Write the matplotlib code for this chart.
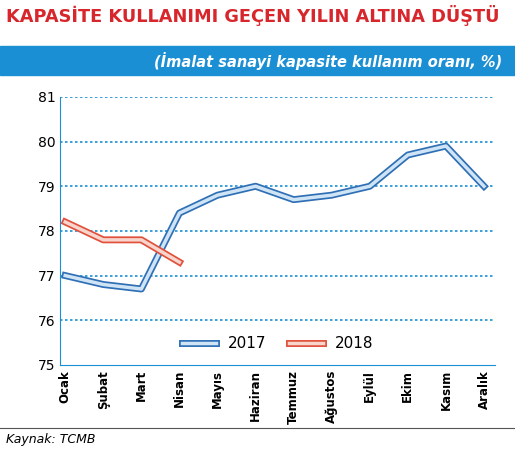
import matplotlib
matplotlib.use("Agg")
import matplotlib.pyplot as plt
import matplotlib.patheffects as pe
from matplotlib.patches import Rectangle

months = ["Ocak","Şubat","Mart","Nisan","Mayıs","Haziran","Temmuz","Ağustos","Eylül","Ekim","Kasım","Aralık"]
y2017 = [77.0,76.8,76.7,78.4,78.8,79.0,78.7,78.8,79.0,79.7,79.9,79.0]
y2018 = [78.2,77.8,77.8,77.3]
yticks = [75,76,77,78,79,80,81]

fig = plt.figure(figsize=(5.15,4.55), dpi=100)
fig.patch.set_facecolor("white")
fig.text(0.012,0.965,"KAPASİTE KULLANIMI GEÇEN YILIN ALTINA DÜŞTÜ",color="#d7262c",
         fontsize=12.8,fontweight="bold",va="center",ha="left")
fig.patches.append(Rectangle((0,0.835),1,0.063,transform=fig.transFigure,color="#1a8fd4",zorder=0))
fig.text(0.975,0.866,"(İmalat sanayi kapasite kullanım oranı, %)",color="white",fontsize=10.5,
         style="italic",fontweight="bold",ha="right",va="center")
fig.lines.append(plt.Line2D([0,1],[0.06,0.06],transform=fig.transFigure,color="#555",lw=0.8))
fig.text(0.012,0.035,"Kaynak: TCMB",fontsize=9,style="italic",va="center")

ax = fig.add_axes([0.117,0.198,0.845,0.589])
ax.set_xlim(-0.13,11.3)
ax.set_ylim(75,81)
ax.set_yticks(yticks)
ax.set_yticklabels([str(v) for v in yticks],fontsize=10)
ax.set_xticks(range(12))
ax.set_xticklabels(months,rotation=90,fontsize=8.5,fontweight="bold")
for y in yticks[1:]:
    ax.axhline(y,color="#1a8fd4",ls=(0,(1.5,1.5)),lw=1.2,zorder=1)
for s in ["top","right"]:
    ax.spines[s].set_visible(False)
ax.spines["left"].set_color("#1a8fd4")
ax.spines["bottom"].set_color("#1a8fd4")
ax.tick_params(axis="y",length=0)
ax.tick_params(axis="x",length=0)

ax.plot(range(12),y2017,color="#cfe4f5",lw=2.5,zorder=3,
        path_effects=[pe.Stroke(linewidth=5,foreground="#2f6fb5"),pe.Normal()],solid_joinstyle="round",label="2017")
ax.plot(range(4),y2018,color="#f7d4cc",lw=2.5,zorder=3,
        path_effects=[pe.Stroke(linewidth=5,foreground="#e0503c"),pe.Normal()],solid_joinstyle="round",label="2018")
ax.legend(loc="lower center",bbox_to_anchor=(0.5,0.0),ncol=2,frameon=False,fontsize=11,
          handlelength=2.2,columnspacing=1.5)
fig.savefig("out.png",dpi=100)
